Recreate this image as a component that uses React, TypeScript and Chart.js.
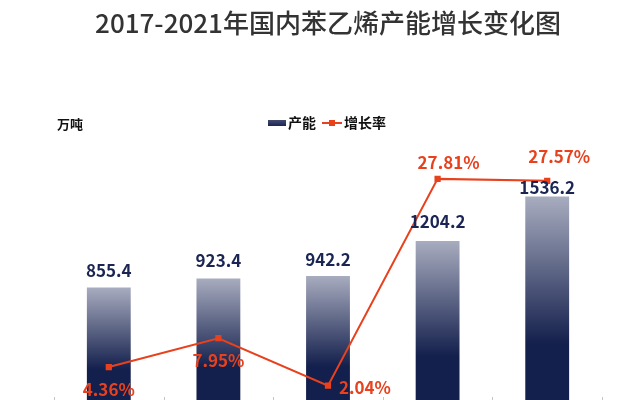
import React, { useEffect, useRef } from "react";
import { Chart, registerables } from "chart.js";

Chart.register(...registerables);

const years = ["2017", "2018", "2019", "2020", "2021"];
const capacity = [855.4, 923.4, 942.2, 1204.2, 1536.2];
const growthRate = [4.36, 7.95, 2.04, 27.81, 27.57];

const TITLE = "2017-2021年国内苯乙烯产能增长变化图";
const UNIT = "万吨";
const BAR_NAME = "产能";
const LINE_NAME = "增长率";

const FONT = '"Noto Sans CJK SC", "Noto Sans", sans-serif';
const NAVY = "#131f4c";
const LIGHT = "#a8acbf";
const RED = "#e8411d";

// label placement (styling only)
const barLabelGap = [17, 18, 16, 19, 9];
const rateLabelDx = [0, 0, 37, 11, 12];
const rateLabelDy = [23, 22, 2, -16, -24];

const labelsPlugin = {
  id: "customLabels",
  afterDatasetsDraw(chart: any) {
    const ctx = chart.ctx;
    ctx.save();
    ctx.textAlign = "center";
    ctx.textBaseline = "middle";
    ctx.font = `bold 17px ${FONT}`;
    ctx.fillStyle = "#1a2553";
    chart.getDatasetMeta(1).data.forEach((el: any, i: number) => {
      const { x, y } = el.getProps(["x", "y"], true);
      ctx.fillText(capacity[i].toFixed(1), x, y - barLabelGap[i]);
    });
    ctx.fillStyle = RED;
    chart.getDatasetMeta(0).data.forEach((el: any, i: number) => {
      const { x, y } = el.getProps(["x", "y"], true);
      ctx.fillText(growthRate[i].toFixed(2) + "%", x + rateLabelDx[i], y + rateLabelDy[i]);
    });
    // category tick marks at the axis
    const xs = chart.scales.x;
    const n = years.length;
    const c0 = xs.getPixelForValue(0);
    const c1 = xs.getPixelForValue(1);
    const half = (c1 - c0) / 2;
    const bottom = chart.chartArea.bottom;
    ctx.strokeStyle = "#c4c4c4";
    ctx.lineWidth = 1;
    for (let i = 0; i <= n; i++) {
      const bx = Math.round(xs.getPixelForValue(Math.min(i, n - 1)) + (i < n ? -half : half)) + 0.5;
      ctx.beginPath();
      ctx.moveTo(bx, bottom - 5);
      ctx.lineTo(bx, bottom + 5);
      ctx.stroke();
    }
    ctx.restore();
  },
  afterDraw(chart: any) {
    const ctx = chart.ctx;
    ctx.save();
    ctx.textBaseline = "middle";
    ctx.textAlign = "left";
    ctx.fillStyle = "#111";
    ctx.font = `bold 13px ${FONT}`;
    ctx.fillText(UNIT, 57, 124);
    // legend
    const g = ctx.createLinearGradient(0, 119, 0, 127);
    g.addColorStop(0, "#4a5175");
    g.addColorStop(1, NAVY);
    ctx.fillStyle = g;
    ctx.fillRect(268, 120, 18, 6);
    ctx.fillStyle = "#111";
    ctx.font = `bold 14px ${FONT}`;
    ctx.fillText(BAR_NAME, 288, 123);
    ctx.strokeStyle = RED;
    ctx.lineWidth = 2;
    ctx.beginPath();
    ctx.moveTo(322, 123);
    ctx.lineTo(342, 123);
    ctx.stroke();
    ctx.fillStyle = RED;
    ctx.fillRect(329, 120, 6, 6);
    ctx.fillStyle = "#111";
    ctx.fillText(LINE_NAME, 344, 123);
    ctx.restore();
  },
};

export default function App() {
  const ref = useRef<HTMLCanvasElement>(null);
  useEffect(() => {
    const chart = new Chart(ref.current as HTMLCanvasElement, {
      type: "bar",
      data: {
        labels: years,
        datasets: [
          {
            type: "line",
            label: LINE_NAME,
            data: growthRate,
            yAxisID: "y1",
            borderColor: RED,
            backgroundColor: RED,
            borderWidth: 2,
            pointStyle: "rect",
            pointRadius: 3,
            pointBackgroundColor: RED,
            pointBorderColor: RED,
            tension: 0,
            order: 0,
          } as any,
          {
            type: "bar",
            label: BAR_NAME,
            data: capacity,
            yAxisID: "y",
            barPercentage: 0.4,
            categoryPercentage: 1,
            order: 1,
            backgroundColor: (c: any) => {
              const chart = c.chart;
              if (!chart.chartArea || c.type !== "data") return NAVY;
              const ys = chart.scales.y;
              const top = ys.getPixelForValue(c.raw as number);
              const base = ys.getPixelForValue(0);
              const grad = chart.ctx.createLinearGradient(0, top, 0, base);
              grad.addColorStop(0, LIGHT);
              grad.addColorStop(0.72, NAVY);
              grad.addColorStop(1, NAVY);
              return grad;
            },
          } as any,
        ],
      },
      options: {
        responsive: false,
        animation: false,
        layout: { padding: { left: 54, right: 38, top: 0, bottom: 8 } },
        plugins: {
          legend: { display: false },
          tooltip: { enabled: false },
          title: {
            display: true,
            text: TITLE,
            color: "#333333",
            font: { family: FONT, size: 26, weight: "500" as any, lineHeight: 1.2 },
            padding: { top: 8, bottom: 82 },
          },
        },
        scales: {
          x: { display: false, offset: true },
          y: { display: false, min: 0, max: 2100 },
          y1: { display: false, min: 0, max: 35, position: "right" },
        },
      },
      plugins: [labelsPlugin],
    });
    return () => chart.destroy();
  }, []);
  return (
    <div
      style={{
        position: "absolute",
        left: 0,
        top: 0,
        width: 640,
        height: 400,
        overflow: "hidden",
        background: "#fff",
      }}
    >
      <canvas ref={ref} width={640} height={410} style={{ display: "block" }} />
    </div>
  );
}
